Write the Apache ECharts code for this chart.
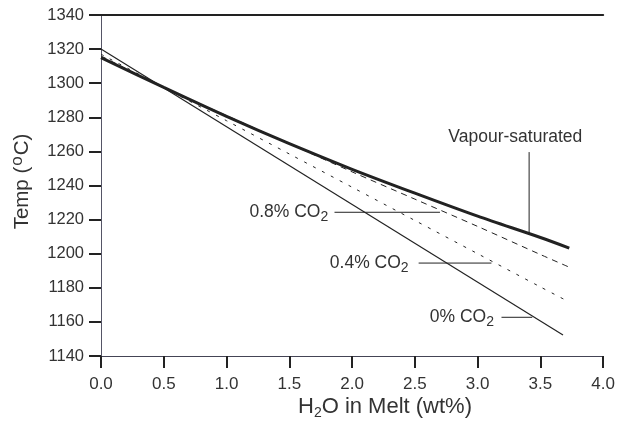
<!DOCTYPE html>
<html><head><meta charset="utf-8">
<script src="https://cdn.jsdelivr.net/npm/echarts@6/dist/echarts.min.js"></script>
<style>html,body{margin:0;padding:0;background:#fff}#c{width:618px;height:424px}</style>
</head><body><div id="c"></div>
<script>
// ---- data ----
const xTicks = [0, 0.5, 1.0, 1.5, 2.0, 2.5, 3.0, 3.5, 4.0];
const vapourX = [0, 0.5, 1.0, 1.5, 2.0, 2.5, 3.0, 3.5, 3.73];
const vapourT = [1315, 1297.5, 1280.5, 1264.5, 1249.5, 1235.5, 1222, 1209.5, 1203.3];
const co2_08X = [0, 0.5, 1.0, 1.5, 2.0, 2.5, 3.0, 3.5, 3.72];
const co2_08T = [1316, 1297.5, 1281, 1264.5, 1248, 1232, 1216, 1199.5, 1192.4];
const co2_04X = [0, 0.5, 1.0, 1.5, 2.0, 2.5, 3.0, 3.5, 3.70];
const co2_04T = [1317, 1297.5, 1278, 1258.5, 1239, 1219.5, 1200, 1180.5, 1172.8];
const co2_0X = [0, 3.68];
const co2_0T = [1320, 1152.3];
const seriesNames = ['Vapour-saturated', '0.8% CO{s|2}', '0.4% CO{s|2}', '0% CO{s|2}'];
// annotation anchors (data units): label anchor, leader start, leader end
const labelAnchor = [[3.30, 1268.5], [1.81, 1224.3], [2.45, 1194.5], [3.13, 1162.7]];
const leaderFrom = [[3.41, 1259.6], [1.86, 1224.3], [2.53, 1194.5], [3.19, 1162.7]];
const leaderTo = [[3.41, 1212.1], [2.70, 1224.3], [3.11, 1194.5], [3.435, 1162.7]];
const labelAlign = ['center', 'right', 'right', 'right'];

const ink = '#222';
const txt = '#333';
const FONT = 'Liberation Sans';
const zip = (xs, ys) => xs.map((x, i) => [x, ys[i]]);

const leaderSeries = leaderFrom.map((p, i) => ({
  type: 'line', data: [p, leaderTo[i]], showSymbol: false, silent: true,
  lineStyle: { color: ink, width: 1 }, z: 3
}));

const chart = echarts.init(document.getElementById('c'), null, { renderer: 'canvas' });
chart.setOption({
  animation: false,
  backgroundColor: '#fff',
  grid: { left: 101, right: 14, top: 15, bottom: 68 },
  xAxis: [{
    type: 'value', min: 0, max: 4, interval: 0.5,
    axisLine: { show: true, onZero: false, lineStyle: { color: '#445', width: 1 } },
    axisTick: { show: true, inside: false, length: 12, lineStyle: { color: ink, width: 2 } },
    axisLabel: { formatter: v => v.toFixed(1), fontSize: 17, color: txt, margin: 20, fontFamily: FONT },
    splitLine: { show: false }
  }, {
    type: 'value', position: 'top', min: 0, max: 4,
    axisLine: { show: true, lineStyle: { color: ink, width: 2 } },
    axisTick: { show: false }, axisLabel: { show: false }, splitLine: { show: false }
  }],
  yAxis: [{
    type: 'value', min: 1140, max: 1340, interval: 20,
    name: 'Temp ({p|o}C)', nameLocation: 'middle', nameRotate: 90, nameGap: 66,
    nameTextStyle: { fontSize: 20.5, color: txt, fontFamily: FONT, padding: [0, 0, 0, 8],
      rich: { p: { fontSize: 17, padding: [0, 1, 9, 1], color: txt, fontFamily: FONT } } },
    axisLine: { show: true, lineStyle: { color: ink, width: 1 } },
    axisTick: { show: true, inside: false, length: 12, lineStyle: { color: ink, width: 2 } },
    axisLabel: { formatter: v => String(v), fontSize: 16.5, color: txt, margin: 17, fontFamily: FONT },
    splitLine: { show: false }
  }, {
    type: 'value', position: 'right', min: 1140, max: 1340,
    axisLine: { show: true, lineStyle: { color: '#556', width: 1 } },
    axisTick: { show: false }, axisLabel: { show: false }, splitLine: { show: false }
  }],
  series: [
    { type: 'line', name: 'Vapour-saturated', data: zip(vapourX, vapourT), smooth: 0.3, showSymbol: false,
      lineStyle: { color: ink, width: 3 }, z: 5 },
    { type: 'line', name: '0.8%', data: zip(co2_08X, co2_08T), smooth: 0.3, showSymbol: false,
      lineStyle: { color: ink, width: 1, type: [6, 5] } },
    { type: 'line', name: '0.4%', data: zip(co2_04X, co2_04T), smooth: 0.3, showSymbol: false,
      lineStyle: { color: ink, width: 1, type: [3, 7] } },
    { type: 'line', name: '0%', data: zip(co2_0X, co2_0T), showSymbol: false,
      lineStyle: { color: ink, width: 1.2 } }
  ].concat(leaderSeries)
});

// annotation texts placed at data coordinates through the chart's own scales
const subStyle = { s: { fontSize: 14, padding: [10, 0, 0, 0], fill: txt, fontFamily: FONT } };
const texts = labelAnchor.map((c, i) => {
  const px = chart.convertToPixel({ gridIndex: 0 }, c);
  return {
    type: 'text', x: px[0], y: px[1], z: 100,
    style: { text: seriesNames[i], align: labelAlign[i], verticalAlign: 'middle',
      fontSize: 17.5, fill: txt, fontFamily: FONT, rich: subStyle }
  };
});
texts.push({
  type: 'text', x: 385, y: 407, z: 100,
  style: { text: 'H{s|2}O in Melt (wt%)', align: 'center', verticalAlign: 'middle', fontSize: 22, fill: txt, fontFamily: FONT,
    rich: { s: { fontSize: 14, padding: [12, 0, 0, 0], fill: txt, fontFamily: FONT } } }
});
chart.setOption({ graphic: texts });
</script></body></html>
